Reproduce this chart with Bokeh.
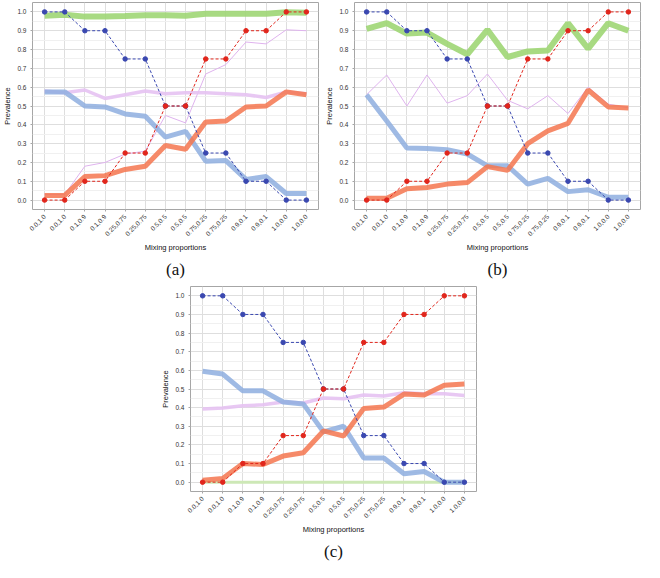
import math
from bokeh.plotting import figure
from bokeh.layouts import column, row
from bokeh.models import FixedTicker, Range1d, Title, Spacer, NumeralTickFormatter
from bokeh.embed import file_html
from bokeh.resources import INLINE

categories = ["0.0,1.0", "0.0,1.0", "0.1,0.9", "0.1,0.9", "0.25,0.75", "0.25,0.75",
              "0.5,0.5", "0.5,0.5", "0.75,0.25", "0.75,0.25", "0.9,0.1", "0.9,0.1",
              "1.0,0.0", "1.0,0.0"]
x_pos = list(range(len(categories)))

expected_blue = [1.0, 1.0, 0.9, 0.9, 0.75, 0.75, 0.5, 0.5, 0.25, 0.25, 0.1, 0.1, 0.0, 0.0]
expected_red = [0.0, 0.0, 0.1, 0.1, 0.25, 0.25, 0.5, 0.5, 0.75, 0.75, 0.9, 0.9, 1.0, 1.0]

# panel (a)
a_green = [0.98, 0.985, 0.975, 0.975, 0.978, 0.982, 0.982, 0.98, 0.99, 0.99, 0.99, 0.99, 0.998, 0.996]
a_pink = [0.58, 0.57, 0.585, 0.54, 0.56, 0.58, 0.565, 0.57, 0.57, 0.565, 0.56, 0.545, 0.575, 0.565]
a_pink_thin = [0.03, 0.03, 0.18, 0.20, 0.245, 0.26, 0.45, 0.41, 0.67, 0.72, 0.84, 0.83, 0.905, 0.90]
a_blue = [0.575, 0.575, 0.50, 0.495, 0.458, 0.445, 0.335, 0.365, 0.207, 0.21, 0.11, 0.125, 0.035, 0.035]
a_red = [0.025, 0.025, 0.125, 0.13, 0.163, 0.18, 0.29, 0.27, 0.415, 0.42, 0.495, 0.50, 0.575, 0.56]

# panel (b)
b_green = [0.91, 0.94, 0.885, 0.89, 0.83, 0.775, 0.905, 0.76, 0.79, 0.795, 0.94, 0.805, 0.94, 0.90]
b_pink_thin = [0.56, 0.665, 0.50, 0.665, 0.515, 0.555, 0.67, 0.53, 0.485, 0.555, 0.46, 0.60, 0.51, 0.49]
b_blue = [0.56, 0.42, 0.277, 0.274, 0.268, 0.245, 0.182, 0.182, 0.085, 0.115, 0.045, 0.055, 0.015, 0.015]
b_red = [0.01, 0.01, 0.06, 0.067, 0.085, 0.093, 0.178, 0.158, 0.30, 0.368, 0.408, 0.585, 0.495, 0.49]

# panel (c)
c_green = [0.0] * 14
c_pink = [0.393, 0.398, 0.41, 0.415, 0.43, 0.425, 0.452, 0.448, 0.468, 0.462, 0.48, 0.475, 0.475, 0.465]
c_blue = [0.595, 0.58, 0.49, 0.49, 0.43, 0.42, 0.27, 0.30, 0.13, 0.13, 0.045, 0.057, 0.0, 0.0]
c_red = [0.01, 0.02, 0.10, 0.095, 0.14, 0.158, 0.275, 0.248, 0.395, 0.403, 0.473, 0.468, 0.52, 0.527]

y_ticks = [0.0, 0.1, 0.2, 0.3, 0.4, 0.5, 0.6, 0.7, 0.8, 0.9, 1.0]
y_minor = [0.05, 0.15, 0.25, 0.35, 0.45, 0.55, 0.65, 0.75, 0.85, 0.95]

GREEN = "#9fd674"
PINK = "#e6c2f2"
PINK_THIN = "#dfb3ee"
BLUE = "#8eaedf"
RED = "#f4754f"
DBLUE = "#3a48b0"
DRED = "#e1261c"
FONT = "Liberation Sans"


def make_panel(label, width, height, top, green, pink, pink_thin, blue, red, green_thin=False):
    p = figure(width=width, height=height, x_range=Range1d(-0.6, 13.6), y_range=Range1d(-0.05, 1.05),
               output_backend="svg", toolbar_location=None,
               min_border_left=2, min_border_right=4, min_border_top=top, min_border_bottom=0)
    p.background_fill_color = "white"
    p.border_fill_color = "white"
    p.outline_line_color = "#a6a6a6"
    p.outline_line_width = 1

    p.xaxis.ticker = FixedTicker(ticks=x_pos)
    p.xaxis.major_label_overrides = {i: c for i, c in enumerate(categories)}
    p.xaxis.major_label_orientation = math.pi / 4
    p.yaxis.ticker = FixedTicker(ticks=y_ticks, minor_ticks=y_minor)
    p.yaxis.formatter = NumeralTickFormatter(format="0.0")
    p.xaxis.axis_label = "Mixing proportions"
    p.yaxis.axis_label = "Prevalence"
    for ax in (p.xaxis[0], p.yaxis[0]):
        ax.axis_line_color = None
        ax.major_tick_line_color = "#a6a6a6"
        ax.major_tick_out = 2
        ax.major_tick_in = 0
        ax.minor_tick_line_color = None
        ax.major_label_text_font = FONT
        ax.major_label_text_font_size = "6.5px"
        ax.major_label_text_color = "#333333"
        ax.major_label_standoff = 2
        ax.axis_label_text_font = FONT
        ax.axis_label_text_font_size = "7.5px"
        ax.axis_label_text_font_style = "normal"
        ax.axis_label_text_color = "#111111"
        ax.axis_label_standoff = 2
    p.xaxis.major_label_standoff = 4
    p.xgrid.ticker = FixedTicker(ticks=x_pos)
    p.xgrid.grid_line_color = "#dedede"
    p.ygrid.ticker = FixedTicker(ticks=y_ticks, minor_ticks=y_minor)
    p.ygrid.grid_line_color = "#dedede"
    p.ygrid.minor_grid_line_color = "#f0f0f0"

    if green_thin:
        p.line(x_pos, green, line_color="#cde8b6", line_width=3)
    else:
        p.line(x_pos, green, line_color=GREEN, line_width=6, line_alpha=0.9)
    if pink_thin is not None:
        p.line(x_pos, pink_thin, line_color=PINK_THIN, line_width=1)
    if pink is not None:
        p.line(x_pos, pink, line_color=PINK, line_width=3.5, line_alpha=0.9)
    p.line(x_pos, blue, line_color=BLUE, line_width=5, line_alpha=0.85)
    p.line(x_pos, red, line_color=RED, line_width=5, line_alpha=0.85)

    p.line(x_pos, expected_blue, line_color=DBLUE, line_width=1, line_dash="3 2")
    p.scatter(x_pos, expected_blue, size=4.5, fill_color=DBLUE, line_color=DBLUE)
    p.line(x_pos, expected_red, line_color=DRED, line_width=1, line_dash="3 2")
    p.scatter(x_pos, expected_red, size=4.5, fill_color=DRED, line_color=DRED)

    t = Title(text=label, align="center", text_font="Liberation Serif", text_font_size="17px",
              text_font_style="normal", text_color="#111111", standoff=4)
    p.add_layout(t, "below")
    return p


pa = make_panel("(a)", 322, 280, 2, a_green, a_pink, a_pink_thin, a_blue, a_red)
pb = make_panel("(b)", 322, 280, 2, b_green, None, b_pink_thin, b_blue, b_red)
pc = make_panel("(c)", 322, 282, 6, c_green, c_pink, None, c_blue, c_red, green_thin=True)

layout = column(row(pa, pb), row(Spacer(width=158, height=282), pc))

open("out.html", "w").write(file_html(layout, INLINE))
